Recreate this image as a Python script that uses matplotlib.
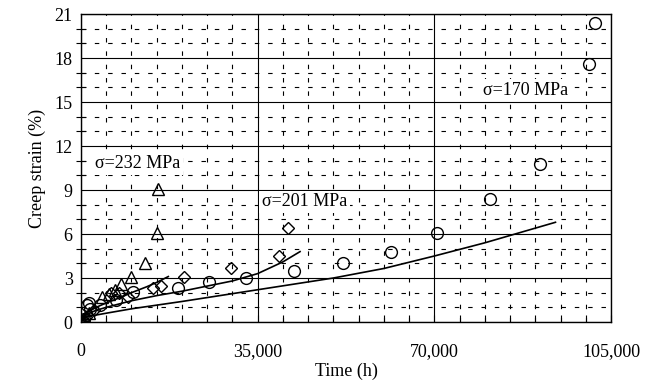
import matplotlib
matplotlib.use("Agg")
import matplotlib.pyplot as plt
from matplotlib.ticker import MultipleLocator, FuncFormatter

plt.rcParams["font.family"] = ["Liberation Serif", "DejaVu Serif"]

# measured points, creep strain (%) vs time (h)
t_232 = [0, 300, 800, 1500, 4100, 5500, 6700, 8000, 10000, 12600, 15000, 15200]
e_232 = [0, 0.1, 0.3, 0.6, 1.7, 1.9, 2.2, 2.6, 3.1, 4.0, 6.1, 9.1]

t_201 = [0, 400, 1000, 2500, 6000, 7600, 9300, 14200, 15800, 20400, 29800, 39300, 41000]
e_201 = [0, 0.15, 0.35, 0.8, 2.0, 1.95, 1.7, 2.3, 2.45, 3.1, 3.7, 4.5, 6.4]

t_170 = [0, 500, 1100, 1600, 1800, 3800, 7000, 10300, 19200, 25300, 32700, 42300,
         52000, 61400, 70500, 81000, 90900, 100700, 101800]
e_170 = [0, 0.2, 1.15, 1.3, 0.9, 1.15, 1.5, 2.05, 2.35, 2.7, 3.0, 3.5,
         4.0, 4.75, 6.1, 8.4, 10.75, 17.6, 20.4]

# fitted curves
fit_t_232 = [0, 1000, 3000, 5000, 8000, 10000, 13000, 15000, 17300]
fit_e_232 = [0, 0.6, 1.0, 1.3, 1.7, 2.0, 2.4, 2.7, 3.1]

fit_t_201 = [0, 1000, 3000, 5000, 10000, 15000, 20000, 25000, 30000, 35000, 40000, 43400]
fit_e_201 = [0, 0.5, 0.8, 1.0, 1.45, 1.8, 2.1, 2.45, 2.8, 3.3, 4.1, 4.8]

fit_t_170 = [0, 1000, 5000, 10000, 20000, 35000, 50000, 60000, 70000, 80000, 94000]
fit_e_170 = [0, 0.35, 0.6, 0.9, 1.4, 2.2, 3.0, 3.65, 4.5, 5.4, 6.8]

labels = ["σ=232 MPa", "σ=201 MPa", "σ=170 MPa"]
label_pos = [(2800, 10.8), (35800, 8.2), (79600, 15.8)]

fig = plt.figure(figsize=(6.52, 3.8), dpi=100)
ax = fig.add_axes([0.1242, 0.1526, 0.8129, 0.8105])

ax.set_xlim(0, 105000)
ax.set_ylim(0, 21)
ax.xaxis.set_major_locator(MultipleLocator(35000))
ax.xaxis.set_minor_locator(MultipleLocator(5000))
ax.yaxis.set_major_locator(MultipleLocator(3))
ax.yaxis.set_minor_locator(MultipleLocator(1))
ax.xaxis.set_major_formatter(FuncFormatter(lambda v, p: f"{int(v):,}"))

ax.grid(which="major", color="black", linewidth=0.8)
ax.grid(which="minor", color="black", linewidth=0.8, linestyle=(0, (4, 8)))
ax.set_axisbelow(True)

ax.tick_params(axis="x", which="both", direction="in", length=5, width=0.8,
               labelsize=13, pad=15)
ax.tick_params(axis="y", which="major", direction="inout", length=0, labelsize=13, pad=6)
ax.tick_params(axis="y", which="minor", direction="inout", length=7, width=0.8)
for s in ax.spines.values():
    s.set_linewidth(1.0)

ax.plot(fit_t_232, fit_e_232, color="black", linewidth=1.2)
ax.plot(fit_t_201, fit_e_201, color="black", linewidth=1.2)
ax.plot(fit_t_170, fit_e_170, color="black", linewidth=1.2)

mk = dict(linestyle="none", markerfacecolor="none", markeredgecolor="black",
          markeredgewidth=1.0, zorder=3)
ax.plot(t_170, e_170, marker="o", markersize=8.5, **mk)
ax.plot(t_201, e_201, marker="D", markersize=6.5, **mk)
ax.plot(t_232, e_232, marker="^", markersize=8.5, **mk)

for txt, (x, y) in zip(labels, label_pos):
    ax.text(x, y, txt, fontsize=13, ha="left", va="center", zorder=4,
            bbox=dict(facecolor="white", edgecolor="none", pad=2))

ax.set_xlabel("Time (h)", fontsize=13, labelpad=2)
ax.set_ylabel("Creep strain (%)", fontsize=13, labelpad=6)

fig.savefig("out.png", dpi=100)
